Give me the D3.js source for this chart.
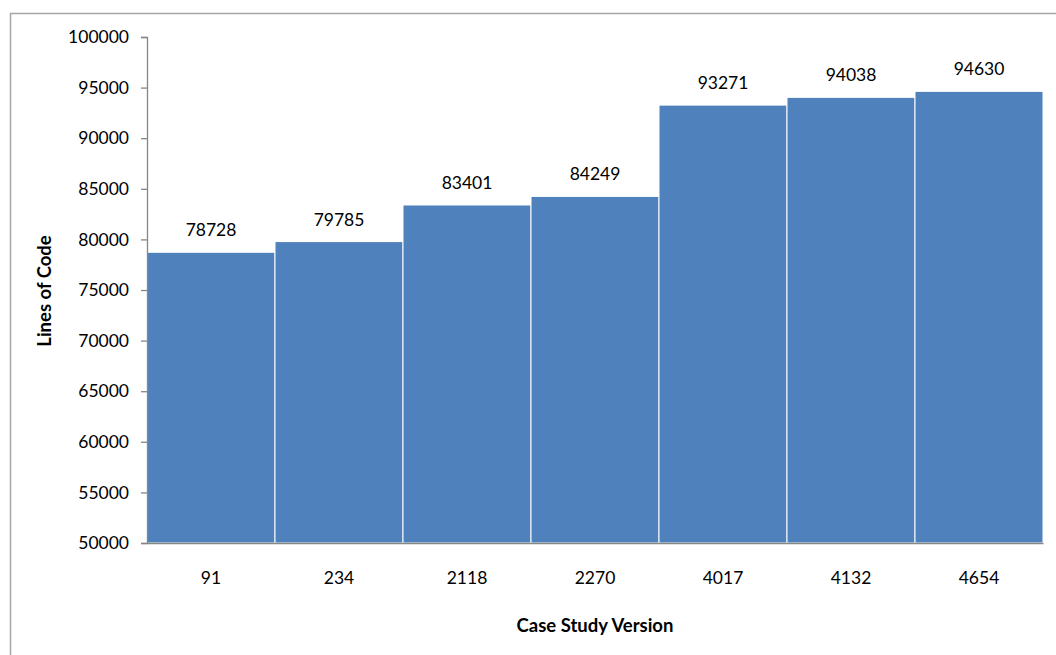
<!DOCTYPE html>
<html>
<head>
<meta charset="utf-8">
<script src="https://cdn.jsdelivr.net/npm/d3@7"></script>
<style>
  html, body { margin: 0; padding: 0; background: #fff; }
  svg { display: block; }
  text { font-family: Lato, "Open Sans", sans-serif; fill: #000; }
</style>
</head>
<body>
<svg id="chart" width="1056" height="655"></svg>
<script>
// Lines of code per case study version
const versions = ["91", "234", "2118", "2270", "4017", "4132", "4654"];
const linesOfCode = [78728, 79785, 83401, 84249, 93271, 94038, 94630];
const yTicks = [50000, 55000, 60000, 65000, 70000, 75000, 80000, 85000, 90000, 95000, 100000];

const svg = d3.select("#chart");
const margin = { left: 147, right: 1043, top: 37, bottom: 543 };

// Outer frame
svg.append("path")
  .attr("d", "M10.5,655 V13.5 H1056")
  .attr("fill", "none")
  .attr("stroke", "#a6a6a6")
  .attr("stroke-width", 1.5);

const x = d3.scaleBand()
  .domain(versions)
  .range([margin.left, margin.right])
  .paddingInner(0)
  .paddingOuter(0);

const y = d3.scaleLinear()
  .domain([50000, 100000])
  .range([margin.bottom, margin.top]);

const rows = versions.map((v, i) => ({ v, n: linesOfCode[i] }));

// Bars
svg.append("g")
  .selectAll("rect")
  .data(rows)
  .join("rect")
  .attr("x", d => x(d.v))
  .attr("y", d => y(d.n))
  .attr("width", x.bandwidth())
  .attr("height", d => y(50000) - y(d.n))
  .attr("fill", "#4f81bd")
  .attr("stroke", "#ffffff")
  .attr("stroke-width", 1);

// Value labels
svg.append("g")
  .selectAll("text")
  .data(rows)
  .join("text")
  .attr("x", d => x(d.v) + x.bandwidth() / 2)
  .attr("y", d => y(d.n) - 16)
  .attr("text-anchor", "middle")
  .attr("font-size", "17.5px")
  .text(d => d.n);

// Y axis
const yAxis = svg.append("g")
  .attr("transform", `translate(${margin.left},0)`)
  .call(d3.axisLeft(y).tickValues(yTicks).tickSize(6).tickPadding(12).tickFormat(d3.format("d")));
yAxis.selectAll("path, line").attr("stroke", "#868686").attr("stroke-width", 1.3);
yAxis.selectAll("text").attr("font-size", "17.5px").attr("font-family", "Lato, sans-serif").attr("fill", "#000");

// X axis
const xAxis = svg.append("g")
  .attr("transform", `translate(0,${margin.bottom})`)
  .call(d3.axisBottom(x).tickSize(0).tickPadding(29).tickSizeOuter(0));
xAxis.selectAll("path").attr("stroke", "#868686").attr("stroke-width", 1.5);
xAxis.selectAll("text").attr("font-size", "17.5px").attr("font-family", "Lato, sans-serif").attr("fill", "#000");

// Axis titles
svg.append("text")
  .attr("x", 595)
  .attr("y", 632)
  .attr("text-anchor", "middle")
  .attr("font-size", "18.5px")
  .attr("font-weight", "bold")
  .text("Case Study Version");

svg.append("text")
  .attr("transform", "translate(51,291) rotate(-90)")
  .attr("text-anchor", "middle")
  .attr("font-size", "18.5px")
  .attr("font-weight", "bold")
  .text("Lines of Code");
</script>
</body>
</html>
